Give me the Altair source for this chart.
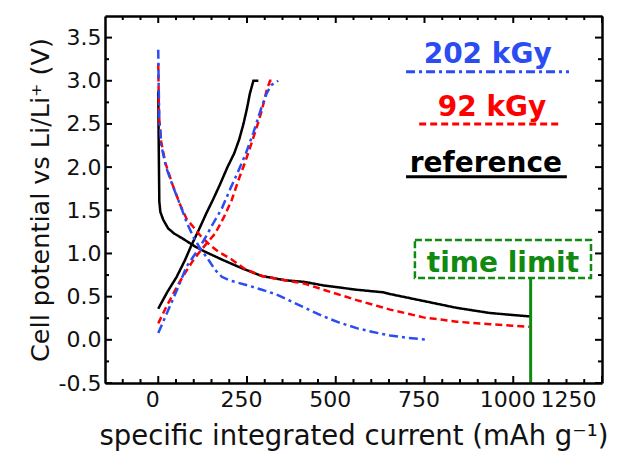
import altair as alt
import pandas as pd

# Galvanostatic discharge / charge curves (x: mAh g-1, y: V vs Li/Li+)
REF_DIS_X = [0, 1, 2, 3, 6, 14, 28, 45, 66, 104, 132, 179, 235, 291, 357, 413, 465, 559, 634, 653, 747, 841, 935, 1050]
REF_DIS_Y = [2.88, 2.4, 2.0, 1.6, 1.48, 1.39, 1.29, 1.23, 1.18, 1.08, 1.02, 0.93, 0.83, 0.74, 0.69, 0.67, 0.63, 0.58, 0.55, 0.53, 0.45, 0.37, 0.31, 0.27]
REF_CHG_X = [0, 25, 52, 75, 94, 115, 136, 155, 174, 195, 214, 228, 240, 250, 258, 268, 282]
REF_CHG_Y = [0.36, 0.55, 0.73, 0.92, 1.1, 1.28, 1.47, 1.63, 1.8, 2.0, 2.16, 2.32, 2.5, 2.68, 2.85, 3.0, 3.0]

G92_DIS_X = [0, 2, 8, 20, 40, 62, 80, 100, 120, 145, 170, 207, 244, 292, 357, 413, 465, 559, 653, 747, 841, 935, 1045]
G92_DIS_Y = [3.2, 2.6, 2.3, 2.05, 1.8, 1.56, 1.4, 1.3, 1.2, 1.1, 1.02, 0.93, 0.82, 0.74, 0.69, 0.65, 0.58, 0.46, 0.35, 0.26, 0.21, 0.18, 0.15]
G92_CHG_X = [0, 20, 38, 56, 75, 95, 113, 137, 160, 185, 207, 226, 245, 263, 278, 292, 306, 315, 322]
G92_CHG_Y = [0.19, 0.36, 0.5, 0.64, 0.77, 0.9, 1.0, 1.12, 1.23, 1.42, 1.62, 1.85, 2.06, 2.28, 2.47, 2.66, 2.9, 3.0, 3.0]

G202_DIS_X = [0, 1, 3, 9, 22, 42, 64, 80, 99, 118, 141, 160, 179, 200, 226, 260, 292, 330, 357, 413, 466, 510, 559, 605, 653, 700, 760]
G202_DIS_Y = [3.36, 3.0, 2.55, 2.24, 2.0, 1.77, 1.54, 1.36, 1.19, 1.06, 0.93, 0.81, 0.73, 0.69, 0.66, 0.62, 0.58, 0.53, 0.48, 0.37, 0.27, 0.2, 0.135, 0.09, 0.05, 0.025, 0.0]
G202_CHG_X = [0, 15, 33, 55, 80, 100, 118, 135, 155, 179, 202, 225, 246, 268, 290, 305, 318, 338]
G202_CHG_Y = [0.08, 0.22, 0.39, 0.6, 0.85, 0.97, 1.08, 1.2, 1.35, 1.52, 1.74, 1.95, 2.15, 2.4, 2.68, 2.85, 2.95, 3.0]

SERIES = ["reference", "92 kGy", "202 kGy"]
COLORS = ["#000000", "#ff0000", "#2b4cf2"]
DASHES = [[1, 0], [7, 4], [9, 4, 3, 4]]
GREEN = "#118a11"

X_DOMAIN = [-150, 1250]
Y_DOMAIN = [-0.5, 3.75]
X_MAJOR = [0, 250, 500, 750, 1000, 1250]
X_MINOR = [v for v in range(-100, 1250, 50) if v % 250 != 0]
Y_MAJOR = [-0.5, 0.0, 0.5, 1.0, 1.5, 2.0, 2.5, 3.0, 3.5]
Y_MINOR = [-0.25, 0.25, 0.75, 1.25, 1.75, 2.25, 2.75, 3.25]

# Legend entries: bold label with a sample of the line style underneath
LEG_ORDER = ["202 kGy", "92 kGy", "reference"]
LEG_TEXT_X = [928, 940, 923]
LEG_TEXT_Y = [3.2, 2.59, 1.94]
LEG_LINE_X1 = [698, 735, 698]
LEG_LINE_X2 = [1157, 1127, 1151]
LEG_LINE_Y = [3.105, 2.5, 1.889]

# Time-limit marker and its dashed label box
TIME_LIMIT = 1049
TL_BOX_X = [723, 1219]
TL_BOX_Y = [0.716, 1.156]
TL_TEXT_X, TL_TEXT_Y = 971, 0.785

PLOT_W, PLOT_H = 497, 367
MAJOR_PX, MINOR_PX = 7, 4

curves = [
    ("reference", "discharge", REF_DIS_X, REF_DIS_Y),
    ("reference", "charge", REF_CHG_X, REF_CHG_Y),
    ("92 kGy", "discharge", G92_DIS_X, G92_DIS_Y),
    ("92 kGy", "charge", G92_CHG_X, G92_CHG_Y),
    ("202 kGy", "discharge", G202_DIS_X, G202_DIS_Y),
    ("202 kGy", "charge", G202_CHG_X, G202_CHG_Y),
]
rows = []
for series, branch, xv, yv in curves:
    for i, (a, b) in enumerate(zip(xv, yv)):
        rows.append({"series": series, "curve": f"{series} {branch}", "i": i, "x": a, "y": b})
df = pd.DataFrame(rows)

legend_df = pd.DataFrame({"series": LEG_ORDER, "tx": LEG_TEXT_X, "ty": LEG_TEXT_Y,
                          "lx1": LEG_LINE_X1, "lx2": LEG_LINE_X2, "ly": LEG_LINE_Y})
limit_df = pd.DataFrame({"label": ["time limit"], "x": [TIME_LIMIT], "y0": [Y_DOMAIN[0]],
                         "bx0": [TL_BOX_X[0]], "bx1": [TL_BOX_X[1]],
                         "by0": [TL_BOX_Y[0]], "by1": [TL_BOX_Y[1]],
                         "tx": [TL_TEXT_X], "ty": [TL_TEXT_Y]})

# Inward tick segments on all four sides, lengths converted from pixels to data units
x_per_px = (X_DOMAIN[1] - X_DOMAIN[0]) / PLOT_W
y_per_px = (Y_DOMAIN[1] - Y_DOMAIN[0]) / PLOT_H
tick_rows = []
for values, length in [(X_MAJOR, MAJOR_PX), (X_MINOR, MINOR_PX)]:
    dy = length * y_per_px
    for v in values:
        tick_rows.append({"x0": v, "x1": v, "y0": Y_DOMAIN[0], "y1": Y_DOMAIN[0] + dy})
        tick_rows.append({"x0": v, "x1": v, "y0": Y_DOMAIN[1], "y1": Y_DOMAIN[1] - dy})
for values, length in [(Y_MAJOR, MAJOR_PX), (Y_MINOR, MINOR_PX)]:
    dx = length * x_per_px
    for v in values:
        tick_rows.append({"x0": X_DOMAIN[0], "x1": X_DOMAIN[0] + dx, "y0": v, "y1": v})
        tick_rows.append({"x0": X_DOMAIN[1], "x1": X_DOMAIN[1] - dx, "y0": v, "y1": v})
ticks_df = pd.DataFrame(tick_rows)

xs = alt.Scale(domain=X_DOMAIN, nice=False, zero=False)
ys = alt.Scale(domain=Y_DOMAIN, nice=False, zero=False)
color_scale = alt.Scale(domain=SERIES, range=COLORS)
dash_scale = alt.Scale(domain=SERIES, range=DASHES)

FONT = "DejaVu Sans"


def X(field, **kw):
    return alt.X(field, type="quantitative", scale=xs, axis=None, **kw)


def Y(field, **kw):
    return alt.Y(field, type="quantitative", scale=ys, axis=None, **kw)


lines = alt.Chart(df).mark_line(strokeWidth=2.5).encode(
    x=X("x"), y=Y("y"),
    color=alt.Color("series:N", scale=color_scale, legend=None),
    strokeDash=alt.StrokeDash("series:N", scale=dash_scale, legend=None),
    detail="curve:N",
    order="i:Q",
)

ticks = alt.Chart(ticks_df).mark_rule(color="black", strokeWidth=2).encode(
    x=X("x0"), x2="x1", y=Y("y0"), y2="y1")


def frame_axes(x_axis, y_axis):
    # invisible layer that only carries a pair of axes
    return alt.Chart(df).mark_point(opacity=0).encode(
        x=alt.X("x:Q", scale=xs, axis=x_axis),
        y=alt.Y("y:Q", scale=ys, axis=y_axis),
    )


edge_style = dict(domain=True, domainColor="black", domainWidth=2.5, ticks=False, labels=False,
                  grid=False, title="", offset=0, zindex=1)
y_label = "datum.value < 0 ? '-' + format(-datum.value, '.1f') : format(datum.value, '.1f')"

axes_main = frame_axes(
    alt.Axis(orient="bottom", values=X_MAJOR, ticks=False, domain=False, grid=False,
             format="d", labelFontSize=22, labelFont=FONT, labelColor="#111", labelPadding=6,
             labelOffset=-6, title="specific integrated current (mAh g⁻¹)",
             titleFont=FONT, titleFontSize=27.5, titleFontWeight="normal",
             titleColor="#111", titlePadding=12),
    alt.Axis(orient="left", values=Y_MAJOR, ticks=False, domain=False, grid=False,
             labelExpr=y_label, labelFontSize=22, labelFont=FONT, labelColor="#111",
             labelPadding=4, title="Cell potential vs Li/Li⁺ (V)", titleFont=FONT,
             titleFontSize=25.5, titleFontWeight="normal", titleColor="#111",
             titlePadding=5),
)
frame_bl = frame_axes(alt.Axis(orient="bottom", **edge_style), alt.Axis(orient="left", **edge_style))
frame_tr = frame_axes(alt.Axis(orient="top", **edge_style), alt.Axis(orient="right", **edge_style))

legend_text = alt.Chart(legend_df).mark_text(
    font=FONT, fontWeight="bold", fontSize=28, align="center", baseline="alphabetic"
).encode(x=X("tx"), y=Y("ty"), text="series:N",
         color=alt.Color("series:N", scale=color_scale, legend=None))
legend_rule = alt.Chart(legend_df).mark_rule(strokeWidth=3).encode(
    x=X("lx1"), x2="lx2", y=Y("ly"),
    color=alt.Color("series:N", scale=color_scale, legend=None),
    strokeDash=alt.StrokeDash("series:N", scale=dash_scale, legend=None),
)

limit_rule = alt.Chart(limit_df).mark_rule(color=GREEN, strokeWidth=3).encode(
    x=X("x"), y=Y("y0"), y2="by0")
limit_box = alt.Chart(limit_df).mark_rect(
    filled=False, stroke=GREEN, strokeWidth=2.5, strokeDash=[7, 3]
).encode(x=X("bx0"), x2="bx1", y=Y("by0"), y2="by1")
limit_text = alt.Chart(limit_df).mark_text(
    font=FONT, fontWeight="bold", fontSize=28, color=GREEN, align="center", baseline="alphabetic"
).encode(x=X("tx"), y=Y("ty"), text="label:N")

chart = alt.layer(
    lines, ticks, legend_rule, legend_text, limit_rule, limit_box, limit_text,
    axes_main, frame_bl, frame_tr,
).resolve_axis(x="independent", y="independent").properties(
    width=PLOT_W, height=PLOT_H,
    autosize=alt.AutoSizeParams(type="none"),
    padding={"left": 105, "top": 16, "right": 38, "bottom": 90},
)

chart.save("out.html", embed_options={"renderer": "svg", "actions": False})
